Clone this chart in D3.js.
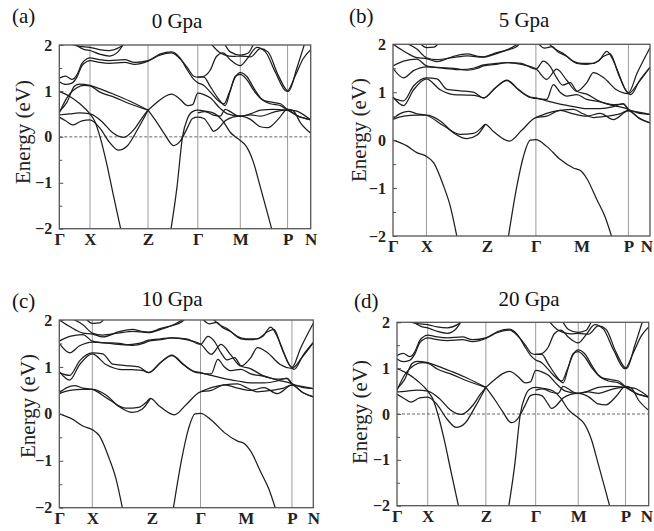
<!DOCTYPE html>
<html><head><meta charset="utf-8">
<script src="https://cdn.jsdelivr.net/npm/d3@7"></script>
<style>body{margin:0;background:#fff}svg{display:block}</style>
</head><body>
<svg id="c" width="654" height="531"></svg>
<script>
// ---------- data ----------
const kLabels = ["Γ","X","Z","Γ","M","P","N"];
const kPosA = [0, 0.122, 0.353, 0.551, 0.72, 0.908, 1];
const kPosB = [0, 0.13, 0.365, 0.556, 0.734, 0.916, 1];
const vLinesA = [1, 2, 3, 4, 5];
const vLinesB = [1, 3, 5];
const yTicks = [-2, -1, 0, 1, 2];
const yMinor = [-1.5, -0.5, 0.5, 1.5];
const panelTags = ["(a)", "(b)", "(c)", "(d)"];
const pressures = ["0 Gpa", "5 Gpa", "10 Gpa", "20 Gpa"];

// bands for the 0 / 20 GPa panels  [k, E(eV)]
const bandsA = [
 [[0,.99],[.042,.88],[.082,.72],[.122,.5],[.142,.33],[.162,0],[.188,-.57],[.215,-1.27],[.246,-2.05]],
 [[0,.48],[.04,.5],[.08,.52],[.122,.5],[.17,.33],[.21,.1],[.255,-.01],[.3,.18],[.33,.42],[.353,.58]],
 [[0,.43],[.025,.35],[.055,.26],[.09,.35],[.122,.37],[.16,.2],[.2,-.12],[.235,-.29],[.27,-.2],[.31,.15],[.353,.58]],
 [[0,.55],[.03,.75],[.06,1.1],[.08,1.15],[.122,1.12],[.16,1.05],[.22,.92],[.28,.78],[.353,.58]],
 [[0,.52],[.03,.85],[.07,1.07],[.1,1.12],[.122,1.11],[.16,.98],[.22,.86],[.28,.72],[.353,.58]],
 [[.353,.58],[.39,.3],[.42,.05],[.454,-.19],[.48,-.1],[.51,.2],[.53,.4],[.551,.43],[.575,.4],[.6,.22],[.613,.12],[.63,.17],[.66,.35],[.69,.43],[.72,.45],[.76,.38],[.8,.22],[.83,.2],[.87,.38],[.908,.6],[.93,.57],[.96,.3],[1,.08]],
 [[.353,.58],[.39,.76],[.42,.88],[.447,.93],[.48,.82],[.51,.68],[.53,.7],[.551,.95],[.575,.92],[.6,.85],[.64,.62],[.67,.5],[.72,.45],[.76,.48],[.8,.45],[.86,.55],[.908,.58],[.95,.45],[1,.37]],
 [[.443,-2.05],[.468,-1.1],[.49,0],[.51,.4],[.53,.55],[.551,.58],[.58,.56],[.62,.5],[.65,.35],[.68,.1],[.7,0],[.72,-.08],[.745,-.22],[.772,-.55],[.8,-1.1],[.825,-1.6],[.847,-2.05]],
 [[.551,.52],[.58,.55],[.61,.48],[.64,.45],[.66,.6],[.68,.55],[.7,.48],[.72,.45],[.76,.5],[.8,.58],[.85,.6],[.908,.58]],
 [[0,1.28],[.025,1.32],[.05,1.25],[.07,1.35],[.09,1.6],[.11,1.7],[.122,1.72],[.16,1.68],[.2,1.66],[.26,1.68],[.3,1.62],[.353,1.66],[.4,1.8],[.447,1.85],[.48,1.72],[.51,1.45],[.535,1.25],[.551,1.18],[.575,1.12],[.6,.98],[.63,.8],[.655,.72],[.675,.95],[.7,1.3],[.72,1.4],[.745,1.32],[.775,1.05],[.8,.85],[.84,.72],[.88,.68],[.908,.58],[.95,.45],[1,.37]],
 [[0,1.2],[.025,1.14],[.05,1.17],[.07,1.3],[.09,1.55],[.11,1.64],[.122,1.66],[.16,1.62],[.2,1.6],[.26,1.62],[.3,1.58],[.353,1.65],[.4,1.78],[.447,1.83],[.48,1.7],[.51,1.5],[.535,1.32],[.551,1.3],[.575,1.3],[.6,1.1],[.63,.85],[.66,.68],[.68,1.0],[.7,1.32],[.72,1.36],[.745,1.25],[.775,1.0],[.81,.8],[.85,.75],[.88,.72],[.908,.6],[.95,.55],[1,.37]],
 [[.551,1.3],[.575,1.32],[.6,1.45],[.625,1.75],[.651,1.83],[.68,1.68],[.72,1.55],[.75,1.72],[.786,1.95],[.82,1.85],[.86,1.4],[.905,.99],[.94,1.35],[.97,1.7],[1,1.9]],
 [[.6,2.05],[.635,1.85],[.66,1.78],[.69,1.75],[.72,1.76],[.76,1.74],[.8,1.92],[.83,1.85],[.87,1.35],[.912,.99],[.945,1.5],[.977,2.05]],
 [[.655,2.05],[.68,1.85],[.72,1.78],[.75,1.82],[.775,2.05]],
 [[.03,2.05],[.08,1.97],[.122,1.95],[.16,1.9],[.2,1.88],[.24,1.95],[.265,2.05]],
 [[.055,2.05],[.1,1.9],[.122,1.88],[.16,1.8],[.2,1.76],[.235,1.86],[.258,2.05]]
];

// bands for the 5 / 10 GPa panels  [k, E(eV)]
const bandsB = [
 [[0,0],[.054,-.12],[.093,-.26],[.13,-.34],[.158,-.47],[.197,-.96],[.223,-1.38],[.25,-2.05]],
 [[.448,-2.05],[.482,-.96],[.508,-.33],[.534,0],[.556,.01],[.598,-.13],[.65,-.4],[.702,-.58],[.728,-.63],[.754,-.8],[.793,-1.24],[.825,-1.6],[.853,-2.05]],
 [[0,.45],[.03,.56],[.06,.6],[.093,.55],[.13,.52],[.197,.3],[.262,.12],[.313,.14],[.345,.26],[.359,.33],[.391,.18],[.453,-.02],[.5,.2],[.556,.47],[.598,.5],[.65,.62],[.702,.55],[.754,.5],[.806,.56],[.858,.43],[.916,.61],[.96,.45],[1,.36]],
 [[0,.43],[.041,.5],[.093,.52],[.13,.52],[.184,.4],[.236,.15],[.288,.03],[.326,.1],[.359,.33]],
 [[.556,.47],[.598,.56],[.65,.62],[.702,.64],[.74,.55],[.78,.47],[.832,.5],[.883,.55],[.916,.62],[.96,.56],[1,.54]],
 [[0,.88],[.041,.82],[.08,1.13],[.13,1.3],[.171,1.28],[.21,1.06],[.262,1.03],[.313,1.0],[.352,.88],[.4,1.1],[.443,1.25],[.49,1.05],[.534,.9],[.556,.88],[.598,.82],[.65,.75],[.702,.7],[.754,.66],[.806,.66],[.858,.7],[.896,.76],[.916,.64],[.96,.58],[1,.54]],
 [[0,.9],[.041,.72],[.08,1.05],[.13,1.28],[.184,1.05],[.236,.95],[.288,.94],[.33,.92],[.352,.88],[.4,1.1],[.443,1.24],[.49,1.04],[.534,.89],[.556,.87],[.598,.85],[.624,1.16],[.65,1.0],[.676,.92],[.715,.95],[.754,.85],[.806,.8],[.858,.72],[.916,.64],[.96,.45],[1,.36]],
 [[0,1.5],[.041,1.3],[.08,1.45],[.13,1.53],[.197,1.5],[.262,1.47],[.313,1.5],[.352,1.57],[.4,1.6],[.443,1.62],[.5,1.58],[.556,1.49],[.598,1.27],[.637,1.48],[.676,1.25],[.715,1.02],[.754,1.2],[.78,1.41],[.82,1.3],[.87,1.05],[.916,.97],[.955,1.2],[1,1.52]],
 [[0,1.55],[.041,1.65],[.093,1.69],[.13,1.55],[.171,1.52],[.236,1.5],[.288,1.46],[.33,1.5],[.352,1.55],[.4,1.58],[.443,1.62],[.5,1.6],[.556,1.48],[.585,1.65],[.61,1.55],[.637,1.3],[.66,1.15],[.69,1.2],[.715,1.02],[.754,.96],[.8,.82],[.858,.74],[.896,.75],[.916,.64]],
 [[0,2.0],[.041,1.86],[.093,1.72],[.13,1.7],[.171,1.64],[.236,1.75],[.288,1.8],[.33,1.75],[.352,1.74],[.4,1.82],[.443,1.88],[.48,1.95],[.5,2.05]],
 [[.04,2.05],[.093,1.9],[.13,1.72],[.171,1.68],[.23,1.72],[.29,1.76],[.35,1.73],[.4,1.8],[.45,1.9],[.5,2.05]],
 [[.1,2.05],[.13,1.93],[.16,1.94],[.18,2.05]],
 [[.56,2.05],[.59,1.92],[.62,1.95],[.64,1.85],[.676,1.75],[.715,1.6],[.754,1.58],[.8,1.65],[.832,1.85],[.858,1.65],[.883,1.3],[.916,.99],[.95,1.4],[1,1.93]],
 [[.6,2.05],[.63,1.9],[.66,1.82],[.7,1.65],[.735,1.6],[.78,1.6],[.82,1.75],[.845,1.8],[.87,1.5],[.905,1.05],[.925,.95],[.96,1.25],[1,1.52]]
];

// ---------- layout ----------
const panels = [
 {x0:59.3, x1:310.7, y0:45,    y1:228.7, bands:bandsA, kPos:kPosA, vl:vLinesA, dash:true,
  tag:[12,23], title:[177,28], ylab:[23,132]},
 {x0:393,  x1:650,   y0:44.3,  y1:236,   bands:bandsB, kPos:kPosB, vl:vLinesB, dash:false,
  tag:[349,23], title:[524,27], ylab:[359,130]},
 {x0:59.3, x1:313.3, y0:320,   y1:507.7, bands:bandsB, kPos:kPosB, vl:vLinesB, dash:false,
  tag:[12,308], title:[172,306], ylab:[28,406]},
 {x0:397,  x1:648.7, y0:322.3, y1:505.7, bands:bandsA, kPos:kPosA, vl:vLinesA, dash:true,
  tag:[354,308], title:[529,306], ylab:[360,412]}
];

const svg = d3.select("#c");
const serif = "'Liberation Serif','Times New Roman',serif";
const W = 654;

panels.forEach((p, i) => {
  const x = d3.scaleLinear().domain([0, 1]).range([p.x0, p.x1]);
  const y = d3.scaleLinear().domain([-2, 2]).range([p.y1, p.y0]);
  const g = svg.append("g");

  const cid = "clip" + i;
  g.append("clipPath").attr("id", cid).append("rect")
    .attr("x", p.x0).attr("y", p.y0).attr("width", p.x1 - p.x0).attr("height", p.y1 - p.y0);

  g.selectAll(".vl").data(p.vl).join("line")
    .attr("x1", d => x(p.kPos[d])).attr("x2", d => x(p.kPos[d]))
    .attr("y1", p.y0).attr("y2", p.y1)
    .attr("stroke", "#9a9a9a").attr("stroke-width", 1);

  if (p.dash) {
    g.append("line").attr("x1", p.x0).attr("x2", p.x1)
      .attr("y1", y(0)).attr("y2", y(0))
      .attr("stroke", "#555").attr("stroke-width", 0.9).attr("stroke-dasharray", "3,2");
  }

  const line = d3.line().x(d => x(d[0])).y(d => y(d[1])).curve(d3.curveMonotoneX);
  g.append("g").attr("clip-path", `url(#${cid})`)
    .selectAll("path").data(p.bands).join("path")
    .attr("d", line).attr("fill", "none")
    .attr("stroke", "#1e1e1e").attr("stroke-width", 1.25);

  g.append("rect").attr("x", p.x0).attr("y", p.y0)
    .attr("width", p.x1 - p.x0).attr("height", p.y1 - p.y0)
    .attr("fill", "none").attr("stroke", "#555").attr("stroke-width", 1.3);

  const ya = g.append("g").attr("transform", `translate(${p.x0},0)`)
    .call(d3.axisLeft(y).tickValues(yTicks).tickSize(-4).tickPadding(7).tickFormat(d3.format("d")));
  ya.select(".domain").remove();
  ya.selectAll("line").attr("stroke", "#555");
  ya.selectAll("text").attr("font-family", serif).attr("font-size", 16).attr("font-weight", "bold").attr("fill", "#222");
  g.append("g").attr("transform", `translate(${p.x0},0)`)
    .call(d3.axisLeft(y).tickValues(yMinor).tickSize(-3).tickFormat(""))
    .call(s => { s.select(".domain").remove(); s.selectAll("line").attr("stroke", "#555"); });

  const xa = g.append("g").attr("transform", `translate(0,${p.y1})`)
    .call(d3.axisBottom(x).tickValues(p.kPos).tickSize(0).tickPadding(4).tickFormat((d, j) => kLabels[j]));
  xa.select(".domain").remove();
  xa.selectAll("text").attr("font-family", serif).attr("font-size", 17).attr("font-weight", "bold").attr("fill", "#222");
  // keep labels inside the window
  xa.selectAll("text").each(function(d) {
    const bb = this.getBBox();
    const right = x(d) + bb.width / 2;
    if (right > W - 1) d3.select(this).attr("dx", (W - 1 - right) + "px");
  });

  g.append("text").attr("transform", `translate(${p.ylab[0] + 7},${p.ylab[1]}) rotate(-90)`)
    .attr("text-anchor", "middle").attr("font-family", serif).attr("font-size", 21).attr("fill", "#222")
    .text("Energy (eV)");

  g.append("text").attr("x", p.tag[0]).attr("y", p.tag[1])
    .attr("font-family", serif).attr("font-size", 21).attr("fill", "#111").text(panelTags[i]);
  g.append("text").attr("x", p.title[0]).attr("y", p.title[1]).attr("text-anchor", "middle")
    .attr("font-family", serif).attr("font-size", 21).attr("fill", "#111").text(pressures[i]);
});
</script>
</body></html>
